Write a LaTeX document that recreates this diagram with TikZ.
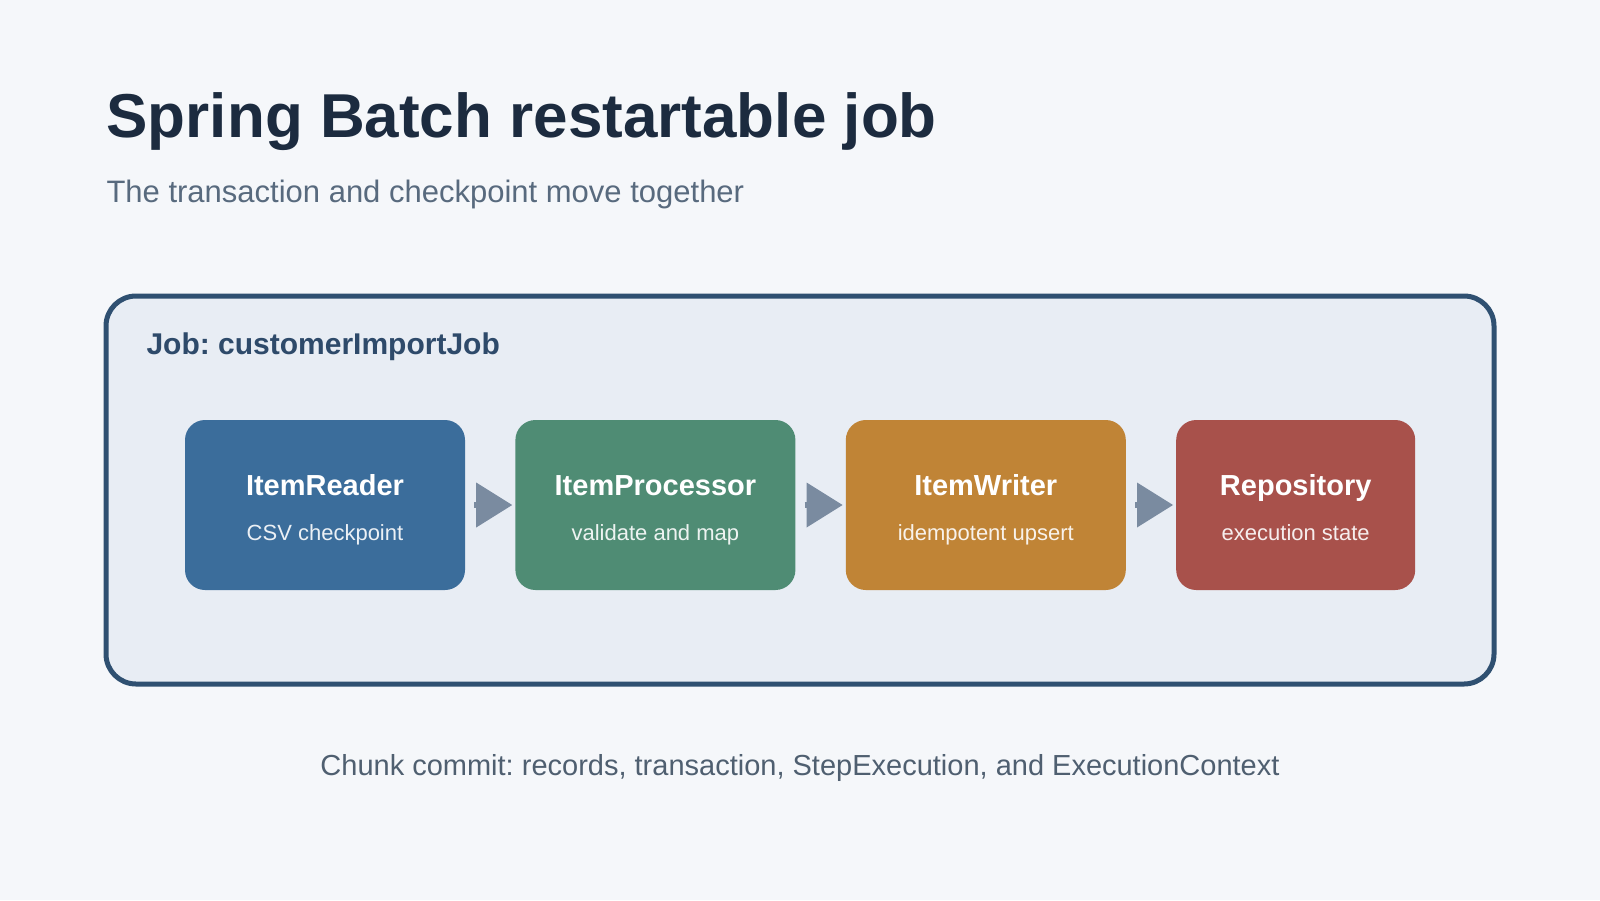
\documentclass[tikz,border=0pt]{standalone}
\usepackage{fontspec}
\setmainfont{Liberation Sans}
\usetikzlibrary{positioning,calc,arrows.meta}
\frenchspacing

\definecolor{pagebg}{HTML}{F5F7FA}
\definecolor{titleink}{HTML}{1C2B3F}
\definecolor{subink}{HTML}{586A7E}
\definecolor{jobline}{HTML}{2F5071}
\definecolor{jobfill}{HTML}{E8EDF4}
\definecolor{jobink}{HTML}{2E4A6A}
\definecolor{readerfill}{HTML}{3B6D9B}
\definecolor{processorfill}{HTML}{4F8C74}
\definecolor{writerfill}{HTML}{C08436}
\definecolor{repofill}{HTML}{A8514B}
\definecolor{flowink}{HTML}{7A8BA0}
\definecolor{footink}{HTML}{4F5F70}

\tikzset{
  stage/.style={rounded corners=20pt, minimum width=280pt, minimum height=170pt, inner sep=0pt},
  stagetitle/.style={anchor=base, text=white, font=\fontsize{29}{35}\selectfont\bfseries},
  stagesub/.style={anchor=base, text=white, text opacity=0.9, font=\fontsize{22}{26}\selectfont},
  flow/.style={draw=flowink, line width=6pt, shorten <=9pt, shorten >=3pt, -{Triangle[length=36pt,width=45pt,line width=0pt]}}
}

\begin{document}
\begin{tikzpicture}[x=1pt,y=-1pt]

   \fill[pagebg] (0,0) rectangle (1600,900);
   \useasboundingbox (0,0) rectangle (1600,900);

   \node[anchor=base west, text=titleink, font=\fontsize{62}{74}\selectfont\bfseries] (title) at (103,137) {Spring Batch restartable job};
   \node[anchor=base west, text=subink, font=\fontsize{31}{37}\selectfont] (subtitle) at (103,202) {The transaction and checkpoint move together};

   % job container
   \node[draw=jobline, fill=jobfill, line width=5pt, rounded corners=30pt, minimum width=1388pt, minimum height=388pt] (job) at (800,490) {};
   \node[anchor=base west, text=jobink, font=\fontsize{30}{36}\selectfont\bfseries] (joblabel) at (143,354) {Job: customerImportJob};

   % chunk stages
   \node[stage, fill=readerfill] (reader) at (325,505) {};
   \node[stage, fill=processorfill, right=50pt of reader] (processor) {};
   \node[stage, fill=writerfill, right=50pt of processor] (writer) {};
   \node[stage, fill=repofill, minimum width=239pt, right=50pt of writer] (repo) {};

   \node[stagetitle] (readerT) at ($(reader.center)+(0,-10)$) {ItemReader};
   \node[stagesub] (readerS) at ($(reader.center)+(0,35)$) {CSV checkpoint};
   \node[stagetitle] (processorT) at ($(processor.center)+(0,-10)$) {ItemProcessor};
   \node[stagesub] (processorS) at ($(processor.center)+(0,35)$) {validate and map};
   \node[stagetitle] (writerT) at ($(writer.center)+(0,-10)$) {ItemWriter};
   \node[stagesub] (writerS) at ($(writer.center)+(0,35)$) {idempotent upsert};
   \node[stagetitle] (repoT) at ($(repo.center)+(0,-10)$) {Repository};
   \node[stagesub] (repoS) at ($(repo.center)+(0,35)$) {execution state};

   \draw[flow] (reader) -- (processor);
   \draw[flow] (processor) -- (writer);
   \draw[flow] (writer) -- (repo);

   \node[anchor=base, text=footink, font=\fontsize{29}{35}\selectfont] (footer) at (800,775) {Chunk commit: records, transaction, StepExecution, and ExecutionContext};

\end{tikzpicture}
\end{document}
